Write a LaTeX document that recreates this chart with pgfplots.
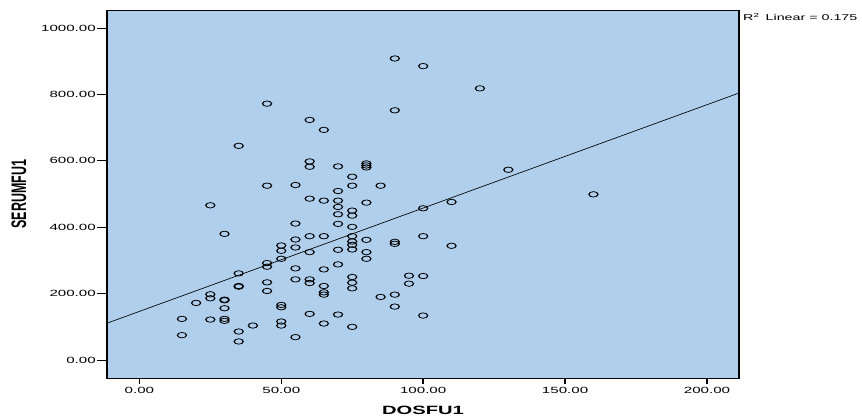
\documentclass[border=0pt]{standalone}
\usepackage{fontspec}
\setmainfont{Liberation Sans}
\usepackage{pgfplots}
\pgfplotsset{compat=1.18}
\usetikzlibrary{calc}
\definecolor{spssbg}{RGB}{175,207,236}

\begin{document}
% the source image is stretched horizontally, so the whole picture is too
\scalebox{1.68}[1]{%
\begin{tikzpicture}
\begin{axis}[
  scale only axis,
  width=376.2pt, height=368pt,
  xmin=-11.4, xmax=211.3,
  ymin=-54, ymax=1054,
  axis background/.style={fill=spssbg},
  axis line style={black, line width=0.8pt},
  tick pos=left, tick align=outside,
  major tick length=6pt,
  tick style={black, line width=0.8pt},
  xtick={0,50,100,150,200},
  ytick={0,200,400,600,800,1000},
  ticklabel style={font=\fontsize{9}{10}\selectfont},
  yticklabel style={inner xsep=0.5pt},
  /pgf/number format/fixed,
  /pgf/number format/fixed zerofill,
  /pgf/number format/precision=2,
  /pgf/number format/1000 sep={},
  /pgf/number format/assume math mode=true,
]
% fit line
\addplot [black, line width=0.6pt] coordinates {(-11.4,111) (211.3,804)};
% observations
\addplot [only marks, mark=o, mark size=2.7pt, mark options={black, line width=0.75pt}]
table[row sep=\\]{
x y\\
15 124\\ 15 75\\
20 172\\
25 466\\ 25 198\\ 25 186\\ 25 122\\
30 380\\ 30 180\\ 30 182\\ 30 156\\ 30 124\\ 30 118\\
35 645\\ 35 261\\ 35 221\\ 35 223\\ 35 86\\ 35 56\\
40 104\\
45 772\\ 45 525\\ 45 292\\ 45 281\\ 45 234\\ 45 208\\
50 345\\ 50 329\\ 50 305\\ 50 166\\ 50 159\\ 50 116\\ 50 104\\
55 527\\ 55 411\\ 55 363\\ 55 339\\ 55 276\\ 55 243\\ 55 69\\
60 723\\ 60 598\\ 60 582\\ 60 486\\ 60 373\\ 60 325\\ 60 243\\ 60 232\\ 60 139\\
65 693\\ 65 480\\ 65 373\\ 65 273\\ 65 223\\ 65 204\\ 65 197\\ 65 110\\
70 583\\ 70 509\\ 70 480\\ 70 461\\ 70 439\\ 70 410\\ 70 332\\ 70 288\\ 70 137\\
75 552\\ 75 525\\ 75 450\\ 75 435\\ 75 401\\ 75 373\\ 75 357\\ 75 347\\ 75 333\\ 75 250\\ 75 233\\ 75 216\\ 75 100\\
80 592\\ 80 586\\ 80 580\\ 80 474\\ 80 362\\ 80 325\\ 80 305\\
85 525\\ 85 190\\
90 908\\ 90 752\\ 90 356\\ 90 350\\ 90 197\\ 90 161\\
95 254\\ 95 230\\
100 885\\ 100 457\\ 100 373\\ 100 253\\ 100 134\\
110 476\\ 110 344\\
120 818\\
130 573\\
160 499\\
};
\coordinate (sw) at (rel axis cs:0,0);
\coordinate (ne) at (rel axis cs:1,1);
\end{axis}
\node[font=\fontsize{12}{13}\selectfont\bfseries, anchor=center]
  at ([yshift=-32.5pt]$(sw)!0.5!(sw-|ne)$) {DOSFU1};
\node[font=\fontsize{12.5}{13}\selectfont\bfseries, rotate=90, anchor=center]
  at ([xshift=-52.4pt]$(sw)!0.5!(sw|-ne)$) {SERUMFU1};
\node[font=\fontsize{8.5}{10}\selectfont, anchor=base west, inner sep=0pt]
  at ([xshift=2.3pt, yshift=-10.7pt]ne) {R\textsuperscript{2}\hspace{0.4em}Linear = 0.175};
\pgfresetboundingbox
\path[use as bounding box] ([xshift=-63.7pt, yshift=-40pt]sw) rectangle ([xshift=73.2pt, yshift=10pt]ne);
\end{tikzpicture}%
}
\end{document}
